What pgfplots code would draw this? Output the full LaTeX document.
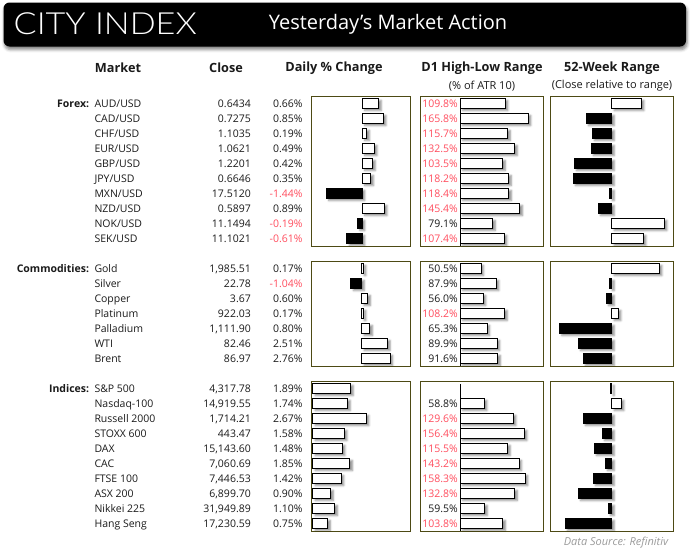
\documentclass[border=0pt]{standalone}
\usepackage{pgfplots}
\pgfplotsset{compat=1.18}
\usepackage{pgfplotstable}
\usepackage{fontspec}
\setmainfont{Open Sans}
\newfontfamily\lightfont{Lato Light}
\usetikzlibrary{shadows.blur}
\definecolor{panelc}{HTML}{4D4A14}
\definecolor{negred}{HTML}{FF4D5E}
\definecolor{ink}{HTML}{1A1A1A}
\definecolor{srcgrey}{HTML}{9A9A9A}
\newcommand\rowfont{\fontsize{10.5}{12}\selectfont}

\pgfplotstableread{
row chg d1 wk
1 0.66 109.8 29.7
2 0.85 165.8 -25.7
3 0.19 115.7 -19.7
4 0.49 132.5 -20.7
5 0.42 103.5 -37.7
6 0.35 118.2 -38.7
7 -1.44 118.4 -2.0
8 0.89 145.4 -13.7
9 -0.19 79.1 52.7
10 -0.61 107.4 31.7
}\forex
\pgfplotstableread{
row chg d1 wk
1 0.17 50.5 47.7
2 -1.04 87.9 -2.0
3 0.60 56.0 -5.7
4 0.17 108.2 6.7
5 0.80 65.3 -52.3
6 2.51 89.9 -33.7
7 2.76 91.6 -28.7
}\comm
\pgfplotstableread{
row chg d1 wk
1 1.89 nan -1.0
2 1.74 58.8 9.7
3 2.67 129.6 -28.7
4 1.58 156.4 -9.7
5 1.48 115.5 -17.7
6 1.85 143.2 -6.7
7 1.42 158.3 -18.7
8 0.90 132.8 -33.7
9 1.10 59.5 -3.7
10 0.75 103.8 -46.7
}\idx

\pgfplotsset{
 panel/.style={scale only axis, anchor=north west,
   axis line style={draw=panelc, line width=0.9pt},
   xtick=\empty, ytick=\empty, y dir=reverse, ymin=0.5},
 bar/.style={xbar, bar width=10pt, bar shift=0pt, draw=black, line width=1pt,
   blur shadow={shadow xshift=2.5pt, shadow yshift=-2pt, shadow blur radius=2pt, shadow opacity=45}},
 posbar/.style={bar, fill=white, restrict x to domain=0:1000},
 negbar/.style={bar, fill=black, restrict x to domain=-1000:0},
 d1lab/.style={only marks, mark=none, point meta=\thisrow{d1},
   /pgf/number format/assume math mode=true,
   nodes near coords={\pgfmathprintnumber[fixed,fixed zerofill,precision=1,assume math mode=true]{\pgfplotspointmeta}\%},
   every node near coord/.append style={anchor=east, inner sep=0pt, xshift=-2.3pt, font=\rowfont, text=#1}},
}

% #1 table, #2 ymax, #3 height, #4 top y, #5 daily xmin, #6 daily xmax
\newcommand\group[6]{%
 \begin{axis}[panel, at={(311.7pt,-#4pt)}, width=98.3pt, height=#3pt, ymax=#2, xmin=#5, xmax=#6]
  \addplot[posbar] table[x=chg,y=row]{#1};
  \addplot[negbar] table[x=chg,y=row]{#1};
 \end{axis}
 \begin{axis}[panel, at={(420.7pt,-#4pt)}, width=122.6pt, height=#3pt, ymax=#2, xmin=-96.6, xmax=202.4]
  \draw[black, line width=1pt] (axis cs:0,0.7) -- (axis cs:0,#2);
  \addplot[posbar] table[x=d1,y=row]{#1};
  \addplot[d1lab=negred, restrict expr to domain={\thisrow{d1}}{100:1000}] table[x expr=\thisrow{d1}*0,y=row]{#1};
  \addplot[d1lab=ink, restrict expr to domain={\thisrow{d1}}{0:99.99}] table[x expr=\thisrow{d1}*0,y=row]{#1};
 \end{axis}
 \begin{axis}[panel, at={(550.3pt,-#4pt)}, width=123pt, height=#3pt, ymax=#2, xmin=-61.4, xmax=61.6]
  \addplot[posbar] table[x=wk,y=row]{#1};
  \addplot[negbar] table[x=wk,y=row]{#1};
 \end{axis}
}

% #1 first row centre, #2 list name/close/change/colour
\newcommand\rows[2]{%
 \foreach \n/\c/\p/\col [count=\i] in {#2} {
  \node[anchor=base west, inner sep=0pt, text=ink, font=\rowfont] at (94.3, {-(#1+15*(\i-1)+3.8)}) {\n};
  \node[anchor=base east, inner sep=0pt, text=ink, font=\rowfont] at (251, {-(#1+15*(\i-1)+3.8)}) {\c};
  \node[anchor=base east, inner sep=0pt, text=\col, font=\rowfont] at (302.7, {-(#1+15*(\i-1)+3.8)}) {\p};
 }
}

\begin{document}
\begin{tikzpicture}[x=1pt, y=1pt]
\useasboundingbox (0,0) rectangle (690,-554);
% header
\fill[black, rounded corners=6pt, blur shadow={shadow xshift=1pt, shadow yshift=-3pt, shadow blur radius=3pt, shadow opacity=50}] (3.5,-2.5) rectangle (686,-46.5);
\node[anchor=west, inner sep=0pt, text=white] at (13.5,-24) {\scalebox{1.12}[1]{\lightfont\fontsize{30.5}{32}\selectfont CITY INDEX}};
\node[anchor=center, inner sep=0pt, text=white] at (388,-24) {\fontsize{20}{22}\selectfont Yesterday\symbol{39}s Market Action};
% column headers
\begin{scope}[every node/.style={inner sep=0pt, text=ink, anchor=center}]
\node[font=\bfseries\fontsize{12.7}{14}\selectfont] at (118,-68) {Market};
\node[font=\bfseries\fontsize{12.7}{14}\selectfont] at (226,-68) {Close};
\node[font=\bfseries\fontsize{12.7}{14}\selectfont] at (334,-68) {Daily \% Change};
\node[font=\bfseries\fontsize{12.7}{14}\selectfont] at (482,-68) {D1 High-Low Range};
\node[font=\bfseries\fontsize{12.7}{14}\selectfont] at (612,-68) {52-Week Range};
\node[font=\fontsize{11}{12}\selectfont] at (482,-86) {(\% of ATR 10)};
\node[font=\fontsize{11}{12}\selectfont] at (612,-86) {(Close relative to range)};
\end{scope}
% group labels
\node[anchor=base east, inner sep=0pt, text=ink, font=\bfseries\rowfont] at (89.3,-107.3) {Forex:};
\node[anchor=base east, inner sep=0pt, text=ink, font=\bfseries\rowfont] at (89.3,-272.3) {Commodities:};
\node[anchor=base east, inner sep=0pt, text=ink, font=\bfseries\rowfont] at (89.3,-392.3) {Indices:};
% rows
\rows{103.5}{{AUD/USD}/{0.6434}/{0.66\%}/ink, {CAD/USD}/{0.7275}/{0.85\%}/ink, {CHF/USD}/{1.1035}/{0.19\%}/ink, {EUR/USD}/{1.0621}/{0.49\%}/ink, {GBP/USD}/{1.2201}/{0.42\%}/ink, {JPY/USD}/{0.6646}/{0.35\%}/ink, {MXN/USD}/{17.5120}/{-1.44\%}/negred, {NZD/USD}/{0.5897}/{0.89\%}/ink, {NOK/USD}/{11.1494}/{-0.19\%}/negred, {SEK/USD}/{11.1021}/{-0.61\%}/negred}
\rows{268.5}{{Gold}/{1,985.51}/{0.17\%}/ink, {Silver}/{22.78}/{-1.04\%}/negred, {Copper}/{3.67}/{0.60\%}/ink, {Platinum}/{922.03}/{0.17\%}/ink, {Palladium}/{1,111.90}/{0.80\%}/ink, {WTI}/{82.46}/{2.51\%}/ink, {Brent}/{86.97}/{2.76\%}/ink}
\rows{388.5}{{S\&P 500}/{4,317.78}/{1.89\%}/ink, {Nasdaq-100}/{14,919.55}/{1.74\%}/ink, {Russell 2000}/{1,714.21}/{2.67\%}/ink, {STOXX 600}/{443.47}/{1.58\%}/ink, {DAX}/{15,143.60}/{1.48\%}/ink, {CAC}/{7,060.69}/{1.85\%}/ink, {FTSE 100}/{7,446.53}/{1.42\%}/ink, {ASX 200}/{6,899.70}/{0.90\%}/ink, {Nikkei 225}/{31,949.89}/{1.10\%}/ink, {Hang Seng}/{17,230.59}/{0.75\%}/ink}
% panels
\group{\forex}{10.5}{150}{96}{-2.02}{1.91}
\group{\comm}{7.5}{105}{261}{-4.85}{4.69}
\group{\idx}{10.5}{150}{381}{-0.05}{4.84}
% source
\node[inner sep=0pt, text=srcgrey, font=\itshape\fontsize{11}{12}\selectfont] at (616,-543) {Data Source: Refinitiv};
\end{tikzpicture}
\end{document}
